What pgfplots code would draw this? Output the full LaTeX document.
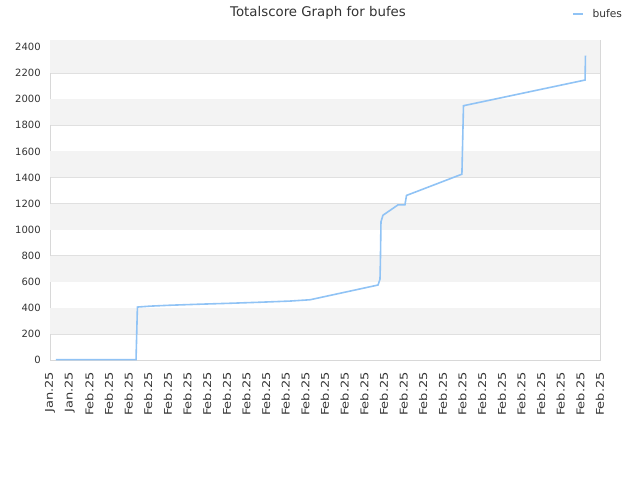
\documentclass[border=0pt]{standalone}
\usepackage{graphicx}
\usepackage{pgfplots}
\pgfplotsset{compat=1.18}
\usepackage{fontspec}
\setmainfont{DejaVu Sans}
\definecolor{lineblue}{RGB}{144,195,245}
\definecolor{band}{RGB}{243,243,243}
\definecolor{gridc}{RGB}{224,224,224}
\definecolor{framec}{RGB}{216,216,216}
\definecolor{txt}{RGB}{51,51,51}
\newcommand{\SL}[1]{\scalebox{1.22}[1]{#1}}
\begin{document}
\begin{tikzpicture}
\useasboundingbox (0,0) rectangle (480pt,360pt);
\node[font=\fontsize{10}{12}\selectfont, text=txt] at (238.5pt,350.5pt) {Totalscore Graph for bufes};
\begin{axis}[
  at={(37.5pt,90pt)}, anchor=south west,
  scale only axis, width=412.5pt, height=240pt,
  xmin=0, xmax=28, ymin=0, ymax=2454,
  axis line style={framec},
  xtick={0,...,28},
  xticklabels={\SL{Jan.25},\SL{Jan.25},\SL{Feb.25},\SL{Feb.25},\SL{Feb.25},\SL{Feb.25},\SL{Feb.25},\SL{Feb.25},\SL{Feb.25},\SL{Feb.25},\SL{Feb.25},\SL{Feb.25},\SL{Feb.25},\SL{Feb.25},\SL{Feb.25},\SL{Feb.25},\SL{Feb.25},\SL{Feb.25},\SL{Feb.25},\SL{Feb.25},\SL{Feb.25},\SL{Feb.25},\SL{Feb.25},\SL{Feb.25},\SL{Feb.25},\SL{Feb.25},\SL{Feb.25},\SL{Feb.25},\SL{Feb.25}},
  x tick label style={rotate=90, anchor=east, font=\fontsize{8}{9}\selectfont, text=txt},
  xticklabel shift=5.5pt,
  ytick={0,200,...,2400},
  y tick label style={font=\fontsize{7.5}{9}\selectfont, text=txt},
  yticklabel shift=3.5pt,
  /pgf/number format/assume math mode=true,
  /pgf/number format/1000 sep={},
  ymajorgrids, grid style={gridc},
  major tick length=0pt,
  tick style={draw=none},
  legend style={draw=none, fill=none, at={(0.9418,1.08125)}, anchor=west, font=\fontsize{8}{9}\selectfont, text=txt},
  legend image code/.code={\draw[lineblue, line width=1.2pt] (0pt,0pt) -- (7.5pt,0pt);},
]
\fill[band] (axis cs:0,200) rectangle (axis cs:28,400);
\fill[band] (axis cs:0,600) rectangle (axis cs:28,800);
\fill[band] (axis cs:0,1000) rectangle (axis cs:28,1200);
\fill[band] (axis cs:0,1400) rectangle (axis cs:28,1600);
\fill[band] (axis cs:0,1800) rectangle (axis cs:28,2000);
\fill[band] (axis cs:0,2200) rectangle (axis cs:28,2454);
\addplot[lineblue, line width=1.2pt] coordinates {
(0.305,3) (4.38,3) (4.41,176) (4.45,406) (5.09,413) (6.11,420) (7.64,428) (9.16,435) (10.69,443) (12.22,452) (13.24,462)
(16.70,575) (16.80,620) (16.82,750) (16.85,1060) (16.95,1110) (17.72,1190) (18.07,1190) (18.15,1262)
(20.97,1425) (21.05,1950) (27.24,2147) (27.26,2335)
};
\addlegendentry{\hspace{4.5pt}bufes}
\end{axis}
\end{tikzpicture}
\end{document}
